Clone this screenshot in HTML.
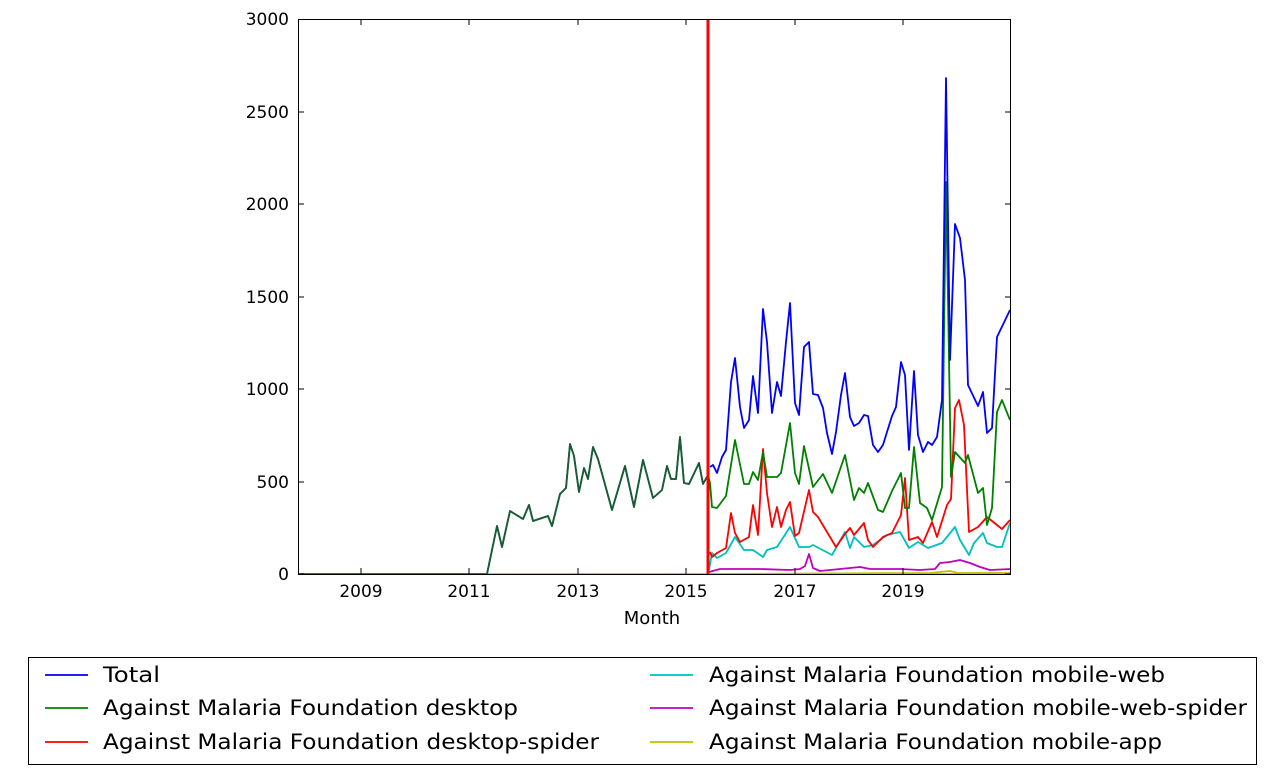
<!DOCTYPE html>
<html><head><meta charset="utf-8"><style>
body{margin:0;background:#fff;}
svg text{font-family:"DejaVu Sans","Liberation Sans",sans-serif;fill:#000;}
</style></head><body>
<svg width="1280" height="771" viewBox="0 0 1280 771" xmlns="http://www.w3.org/2000/svg">
<rect width="1280" height="771" fill="#fff"/>
<g fill="none" stroke-width="1.8" stroke-linejoin="round">
<polyline stroke="#bfbf00" points="298,574 1011,574"/>
<polyline stroke="#bfbf00" points="708,574 930,573 950,571 958,573 1011,573"/>
<polyline stroke="#c000c0" points="709,572 720,569 760,569 790,570 800,569 805,566 809,554 813,568 820,571 840,569 860,567 870,569 900,569 920,570 935,569 940,563 950,562 960,560 970,563 980,567 990,570 1011,569"/>
<polyline stroke="#00bfbf" points="709,570 712,553 717,558 726,553 735,537 744,550 753,550 763,557 767,550 777,547 790,527 799,547 809,547 813,545 832,555 845,532 850,548 854,537 864,547 873,545 887,535 900,532 909,548 918,542 928,548 942,543 955,527 960,540 969,555 974,543 983,533 987,543 997,547 1002,547 1010,523"/>
<polyline stroke="#ff0000" points="710,552 712,557 717,553 726,548 731,513 735,533 740,542 749,537 753,505 758,535 763,449 767,493 772,527 777,507 781,527 786,510 790,502 795,536 799,533 809,490 813,512 818,517 827,532 836,547 845,534 850,528 854,535 864,523 868,540 873,547 883,537 892,533 901,515 905,478 909,540 918,537 923,543 932,522 937,537 947,505 951,499 955,408 959,400 964,425 969,532 978,527 987,517 1002,529 1010,520"/>
<polyline stroke="#008000" points="298,574 487,574 497,526 502,547 510,511 523,519 529,505 533,521 548,516 552,526 560,494 566,488 570,444 574,456 579,492 584,468 588,479 593,447 598,459 612,510 625,466 634,507 643,460 653,498 662,490 667,466 671,479 676,479 680,437 684,483 689,484 699,463 703,484 708,475 710,483 712,507 717,508 726,496 735,440 744,484 749,484 753,472 758,480 763,452 767,477 777,477 781,473 790,423 795,473 799,484 804,446 813,487 823,474 832,493 845,455 854,500 859,488 864,493 868,483 878,510 883,512 892,491 901,473 905,508 909,508 914,447 920,503 927,508 932,520 942,487 946,182 951,477 955,452 965,463 968,455 978,493 983,488 987,525 992,508 997,412 1002,400 1010,420"/>
<polyline stroke="#0000ff" points="710,467 713,465 717,473 722,457 726,450 731,382 735,358 740,407 744,428 749,420 753,376 758,413 763,309 767,342 772,413 777,382 781,396 786,342 790,303 795,403 799,415 804,347 809,342 813,394 818,395 823,408 827,433 832,454 836,432 841,395 845,373 850,417 854,426 859,423 864,415 868,416 873,445 878,452 883,445 887,432 892,416 896,407 901,362 905,375 909,450 914,371 918,435 923,452 928,442 932,445 937,437 942,400 946,78 950,360 955,224 960,238 965,280 968,385 978,406 983,392 987,433 992,428 997,337 1010,310"/>
<polyline stroke="#1a5a3a" points="487,574 497,526 502,547 510,511 523,519 529,505 533,521 548,516 552,526 560,494 566,488 570,444 574,456 579,492 584,468 588,479 593,447 598,459 612,510 625,466 634,507 643,460 653,498 662,490 667,466 671,479 676,479 680,437 684,483 689,484 699,463 703,484 708,475"/>
</g>
<line x1="708" y1="19" x2="708" y2="574" stroke="#ff0000" stroke-width="3"/>
<rect x="298.5" y="19.5" width="712" height="555" fill="none" stroke="#000" stroke-width="1"/>
<g stroke="#000" stroke-width="1">
<line x1="298" y1="574" x2="304" y2="574"/><line x1="1011" y1="574" x2="1005" y2="574"/>
<line x1="298" y1="482" x2="304" y2="482"/><line x1="1011" y1="482" x2="1005" y2="482"/>
<line x1="298" y1="389" x2="304" y2="389"/><line x1="1011" y1="389" x2="1005" y2="389"/>
<line x1="298" y1="297" x2="304" y2="297"/><line x1="1011" y1="297" x2="1005" y2="297"/>
<line x1="298" y1="204" x2="304" y2="204"/><line x1="1011" y1="204" x2="1005" y2="204"/>
<line x1="298" y1="112" x2="304" y2="112"/><line x1="1011" y1="112" x2="1005" y2="112"/>
<line x1="361" y1="574" x2="361" y2="568"/><line x1="361" y1="19" x2="361" y2="25"/>
<line x1="469" y1="574" x2="469" y2="568"/><line x1="469" y1="19" x2="469" y2="25"/>
<line x1="578" y1="574" x2="578" y2="568"/><line x1="578" y1="19" x2="578" y2="25"/>
<line x1="686" y1="574" x2="686" y2="568"/><line x1="686" y1="19" x2="686" y2="25"/>
<line x1="795" y1="574" x2="795" y2="568"/><line x1="795" y1="19" x2="795" y2="25"/>
<line x1="903" y1="574" x2="903" y2="568"/><line x1="903" y1="19" x2="903" y2="25"/>
</g>
<g font-size="17" text-anchor="end">
<text x="289" y="580">0</text><text x="289" y="488">500</text><text x="289" y="395">1000</text>
<text x="289" y="303">1500</text><text x="289" y="210">2000</text><text x="289" y="118">2500</text><text x="289" y="25">3000</text>
</g>
<g font-size="17" text-anchor="middle">
<text x="361" y="597">2009</text><text x="469" y="597">2011</text><text x="578" y="597">2013</text>
<text x="686" y="597">2015</text><text x="795" y="597">2017</text><text x="903" y="597">2019</text>
<text x="652" y="624" font-size="18">Month</text>
</g>
<rect x="28.5" y="657.5" width="1228" height="107" fill="#fff" stroke="#000" stroke-width="1"/>
<g stroke-width="1.8">
<line x1="45" y1="675" x2="88" y2="675" stroke="#0000ff"/>
<line x1="45" y1="708" x2="88" y2="708" stroke="#008000"/>
<line x1="45" y1="742" x2="88" y2="742" stroke="#ff0000"/>
<line x1="650" y1="675" x2="693" y2="675" stroke="#00bfbf"/>
<line x1="650" y1="708" x2="693" y2="708" stroke="#c000c0"/>
<line x1="650" y1="742" x2="693" y2="742" stroke="#bfbf00"/>
</g>
<g font-size="21">
<text x="103" y="682" textLength="57" lengthAdjust="spacingAndGlyphs">Total</text>
<text x="103" y="715" textLength="415" lengthAdjust="spacingAndGlyphs">Against Malaria Foundation desktop</text>
<text x="103" y="749" textLength="496" lengthAdjust="spacingAndGlyphs">Against Malaria Foundation desktop-spider</text>
<text x="709" y="682" textLength="456" lengthAdjust="spacingAndGlyphs">Against Malaria Foundation mobile-web</text>
<text x="709" y="715" textLength="538" lengthAdjust="spacingAndGlyphs">Against Malaria Foundation mobile-web-spider</text>
<text x="709" y="749" textLength="453" lengthAdjust="spacingAndGlyphs">Against Malaria Foundation mobile-app</text>
</g>
</svg>
</body></html>
